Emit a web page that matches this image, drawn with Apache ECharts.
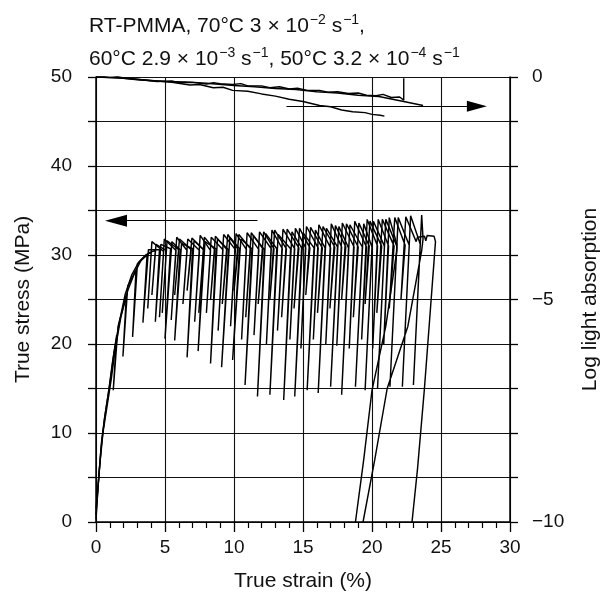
<!DOCTYPE html>
<html>
<head>
<meta charset="utf-8">
<script src="https://cdn.jsdelivr.net/npm/echarts@6/dist/echarts.min.js"></script>
<style>
html,body{margin:0;padding:0;background:#fff;}
#chart{width:600px;height:595px;}
</style>
</head>
<body>
<div id="chart"></div>
<script>
// ---- data ----
const xTicks = [0, 5, 10, 15, 20, 25, 30];
const leftLabels = [0, 10, 20, 30, 40, 50];
const rightLabels = [0, -5, -10];

// True stress (MPa) vs true strain (%) — three serrated curves
const stressA = [
  [0,1.5],[0.2,5],[0.4,9],[0.7,12.5],[1.0,15.5],[1.3,19],[1.7,22.5],[2.1,25.5],[2.6,27.8],[3.1,29.2],[3.6,30],
  [4.0,30.3],[3.75,24],[4.05,31.5],
  [4.9,30.4],[4.6,23],[4.95,31.8],
  [5.8,30.5],[5.45,22.7],[5.85,32],
  [6.6,30.5],[6.3,24.5],[6.65,31.8],
  [7.5,30.5],[7.15,22.5],[7.55,32.2],
  [8.3,30.5],[8.0,23.5],[8.35,32],
  [9.2,30.6],[8.85,21.5],[9.25,32.3],
  [10.1,30.6],[9.75,22],[10.15,32.4],
  [10.9,30.6],[10.55,20.5],[10.95,32.5],
  [11.8,30.6],[11.45,21],[11.85,32.6],
  [12.7,30.7],[12.35,20],[12.75,32.8],
  [13.5,30.7],[13.15,21.5],[13.55,32.9],
  [14.4,30.7],[14.05,20.5],[14.45,33],
  [15.2,30.8],[14.85,19.5],[15.25,33.2],
  [16.1,30.8],[15.75,20.5],[16.15,33.4],
  [17.0,30.8],[16.65,20],[17.05,33.5],
  [17.8,30.9],[17.45,19.8],[17.85,33.6],
  [18.7,30.9],[18.35,19.5],[18.75,33.8],
  [19.6,30.9],[19.25,20.5],[19.65,34],
  [20.4,31],[20.05,19.5],[20.45,34],
  [21.2,31],[20.85,20],[21.25,34.2],
  [21.8,31.2],[21.8,30.5],[21.0,22],[20.0,14.8],[19.4,7],[18.8,0]
];
const stressB = [
  [0,0.3],[0.15,4],[0.35,8],[0.6,11.5],[0.9,14.5],[1.2,18],[1.5,21],[1.25,14.8],[1.6,22],
  [2.2,25.5],[1.95,18.6],[2.3,26.5],
  [2.9,28.3],[2.65,20.8],[3.0,29],
  [3.7,30],[3.4,22.4],[3.8,30.6],
  [4.6,30.6],[4.3,22.5],[4.7,31.2],
  [5.4,30.7],[5.0,20.6],[5.5,31.5],
  [6.1,30.6],[5.7,20.4],[6.2,31.3],
  [7.0,30.7],[6.6,18.5],[7.1,31.6],
  [7.8,30.6],[7.4,19.2],[7.9,31.5],
  [8.7,30.7],[8.3,17.8],[8.8,31.8],
  [9.6,30.6],[9.1,17.4],[9.7,32],
  [10.4,30.7],[9.9,18.2],[10.5,31.8],
  [11.3,30.7],[10.8,15.4],[11.4,32.2],
  [12.2,30.6],[11.7,14.1],[12.3,32.4],
  [13.1,30.7],[12.6,14.3],[13.2,32.3],
  [14.1,30.7],[13.6,13.7],[14.2,32.6],
  [14.9,30.8],[14.4,14.1],[15.0,32.5],
  [15.8,30.8],[15.3,14.8],[15.9,32.8],
  [16.6,30.8],[16.1,14.5],[16.7,33],
  [17.5,30.9],[17.0,15.2],[17.6,33.2],
  [18.3,30.8],[17.8,14.3],[18.4,33.4],
  [19.3,30.9],[18.8,15.2],[19.4,33.5],
  [20.0,30.9],[19.5,14.8],[20.1,33.8],
  [20.9,31.0],[20.4,15.0],[21.0,34],
  [21.8,31.0],[21.3,15.2],[21.9,34.2],
  [22.7,31.1],[22.2,15.2],[22.8,34.4],
  [23.5,31.2],[23.0,15.4],[23.6,34.5],
  [23.7,31.8],[23.6,30.5],[22.6,22],[21.1,15],[20.2,7],[19.35,0]
];
const stressC = [
  [0,0.8],[0.25,6],[0.5,10],[0.8,13],[1.1,16],[1.4,19.5],[1.8,23],[2.3,26],[2.8,28],[3.3,29.5],[3.9,30.3],
  [4.3,30.5],[4.05,25.5],[4.35,31.2],
  [5.1,30.5],[4.8,23.5],[5.15,31.6],
  [6.0,30.6],[5.7,25.5],[6.05,31.8],
  [6.9,30.6],[6.6,26],[6.95,31.9],
  [7.8,30.6],[7.45,23.5],[7.85,32],
  [8.6,30.6],[8.3,25],[8.65,32.1],
  [9.5,30.6],[9.15,24.5],[9.55,32.3],
  [10.3,30.6],[10.0,26],[10.35,32.3],
  [11.2,30.7],[10.85,23],[11.25,32.5],
  [12.1,30.7],[11.75,24.5],[12.15,32.6],
  [12.9,30.7],[12.6,25],[12.95,32.8],
  [13.8,30.7],[13.45,23],[13.85,32.9],
  [14.7,30.8],[14.35,24],[14.75,33],
  [15.5,30.8],[15.2,25.5],[15.55,33.1],
  [16.4,30.8],[16.05,23.5],[16.45,33.2],
  [17.3,30.9],[16.95,24],[17.35,33.3],
  [18.1,30.9],[17.8,25],[18.15,33.5],
  [19.0,30.9],[18.65,23],[19.05,33.6],
  [19.8,31],[19.5,24.5],[19.85,33.8],
  [20.7,31],[20.35,23.5],[20.75,34],
  [21.6,31],[21.25,24],[21.65,34.2],
  [22.4,31.1],[22.1,25],[22.45,34.3],
  [23.2,31.5],[23.3,32],[23.8,32.1],[23.9,31.6],[24.0,32.2],[24.5,32.1],[24.6,31.5],
  [24.5,29.4],[23.8,15],[23.3,6],[22.9,0]
];

// Log light absorption vs true strain (%)
const absorpA = [
  [0,0],[0.5,0.01],[1.0,0.04],[1.4,0.02],[2.0,-0.02],[3.0,-0.05],[4.4,-0.1],[5.5,-0.09],[6.0,-0.13],
  [7.0,-0.12],[8.0,-0.16],[8.5,-0.13],[9.0,-0.15],[9.9,-0.17],[10.5,-0.15],[11.0,-0.2],[12.0,-0.2],
  [12.6,-0.24],[13.3,-0.22],[14.0,-0.27],[14.6,-0.25],[15.3,-0.3],[16.2,-0.3],[16.8,-0.34],[17.5,-0.33],
  [18.3,-0.37],[19.0,-0.36],[19.6,-0.41],[20.3,-0.42],[20.8,-0.39],[21.4,-0.46],[22.0,-0.45],[22.3,-0.52],
  [22.3,-0.03]
];
const absorpB = [
  [0,0],[2.0,-0.03],[4.0,-0.08],[5.5,-0.12],[6.8,-0.18],[7.5,-0.17],[8.5,-0.24],[9.2,-0.23],[9.9,-0.3],
  [11.0,-0.32],[12.0,-0.38],[13.0,-0.43],[14.0,-0.5],[15.0,-0.55],[16.2,-0.64],[17.0,-0.67],[17.8,-0.74],
  [18.6,-0.78],[19.5,-0.8],[20.0,-0.84],[20.6,-0.86],[20.9,-0.88]
];
const absorpC = [
  [0,0],[1.5,-0.01],[3.0,-0.06],[5.0,-0.1],[6.5,-0.11],[8.0,-0.14],[10.0,-0.19],[11.5,-0.22],[13.0,-0.26],
  [14.5,-0.28],[16.0,-0.33],[17.5,-0.36],[19.0,-0.41],[20.5,-0.44],[22.3,-0.55],[23.7,-0.64]
];

// arrows: [fromX, toX (arrowhead centre), level]
const stressArrow = [11.7, 1.45, 33.85];
const absorpArrow = [13.8, 27.6, -0.66];

// ---- chart ----
const FONT = '"Liberation Sans", Arial, Helvetica, sans-serif';
const chart = echarts.init(document.getElementById('chart'), null, {renderer: 'canvas'});
const lineStyleCurve = {color: '#000', width: 1.45};
const gridLine = {color: '#111', width: 1.1};

function curve(data, yIdx, extra) {
  return Object.assign({
    type: 'line', data: data, yAxisIndex: yIdx, symbol: 'none', showSymbol: false,
    lineStyle: lineStyleCurve, silent: true, z: 3
  }, extra || {});
}
function arrow(a, size) {
  return {
    silent: true, symbol: ['none', 'triangle'], symbolSize: size,
    label: {show: false}, lineStyle: {color: '#000', width: 1.2, type: 'solid'},
    itemStyle: {color: '#000'},
    data: [[{coord: [a[0], a[2]]}, {coord: [a[1], a[2]]}]]
  };
}

const rich = {
  n: {fontSize: 21, lineHeight: 30, verticalAlign: 'bottom', fontWeight: 'normal', fontFamily: FONT, color: '#111'},
  s: {fontSize: 14, lineHeight: 24, verticalAlign: 'top', padding: [6, 0, 0, 1], fontWeight: 'normal', fontFamily: FONT, color: '#111'}
};

chart.setOption({
  animation: false,
  backgroundColor: '#fff',
  title: [
    {left: 84, top: 2, text: '{n|RT-PMMA, 70\u00b0C 3 \u00d7 10}{s|\u22122}{n| s}{s|\u22121}{n|,}',
     textStyle: {rich: rich, fontWeight: 'normal'}},
    {left: 84, top: 35, text: '{n|60\u00b0C 2.9 \u00d7 10}{s|\u22123}{n| s}{s|\u22121}{n|, 50\u00b0C 3.2 \u00d7 10}{s|\u22124}{n| s}{s|\u22121}',
     textStyle: {rich: rich, fontWeight: 'normal'}}
  ],
  grid: {left: 96, right: 90, top: 77, bottom: 73, containLabel: false, outerBoundsMode: 'none'},
  xAxis: {
    type: 'value', min: 0, max: 30, interval: 5,
    name: 'True strain (%)', nameLocation: 'middle', nameGap: 49,
    nameTextStyle: {fontSize: 21, fontFamily: FONT, color: '#111'},
    axisLine: {show: true, onZero: false, lineStyle: {color: '#000', width: 1.5}},
    axisTick: {show: true, inside: false, length: 10, lineStyle: {color: '#000', width: 1.3}},
    minorTick: {show: true, splitNumber: 5, length: 6, lineStyle: {color: '#000', width: 1.2}},
    axisLabel: {fontSize: 19, fontFamily: FONT, color: '#111', margin: 16},
    splitLine: {show: true, lineStyle: gridLine}
  },
  yAxis: [
    {
      type: 'value', min: 0, max: 50, interval: 5, position: 'left',
      name: 'True stress (MPa)', nameLocation: 'middle', nameGap: 62, nameRotate: 90,
      nameTextStyle: {fontSize: 21, fontFamily: FONT, color: '#111'},
      axisLine: {show: true, lineStyle: {color: '#000', width: 1.5}},
      axisTick: {show: true, inside: false, length: 8, lineStyle: {color: '#000', width: 1.3}},
      axisLabel: {
        fontSize: 19, fontFamily: FONT, color: '#111', margin: 24,
        formatter: v => leftLabels.indexOf(v) >= 0 ? String(v) : ''
      },
      splitLine: {show: true, lineStyle: gridLine}
    },
    {
      type: 'value', min: -10, max: 0, interval: 1, position: 'right',
      name: 'Log light absorption', nameLocation: 'middle', nameGap: 70, nameRotate: 90,
      nameTextStyle: {fontSize: 21, fontFamily: FONT, color: '#111'},
      axisLine: {show: true, lineStyle: {color: '#000', width: 1.5}},
      axisTick: {show: true, inside: false, length: 8, lineStyle: {color: '#000', width: 1.3}},
      axisLabel: {
        fontSize: 19, fontFamily: FONT, color: '#111', margin: 22,
        formatter: v => rightLabels.indexOf(v) >= 0 ? String(v).replace('-', '\u2212') : ''
      },
      splitLine: {show: false}
    }
  ],
  series: [
    curve(stressA, 0),
    curve(stressB, 0, {markLine: arrow(stressArrow, [12, 22])}),
    curve(stressC, 0),
    curve(absorpA, 1, {lineStyle: {color: '#000', width: 1.4}}),
    curve(absorpB, 1, {markLine: arrow(absorpArrow, [11, 20])}),
    curve(absorpC, 1)
  ]
});
</script>
</body>
</html>
